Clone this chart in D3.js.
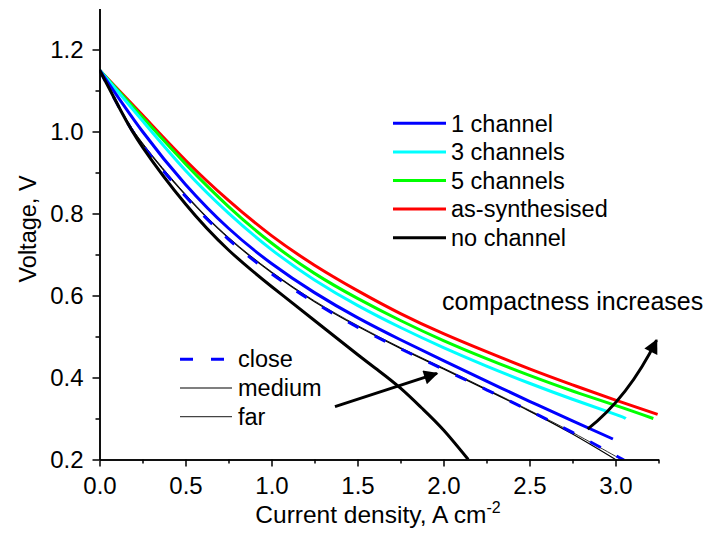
<!DOCTYPE html>
<html>
<head>
<meta charset="utf-8">
<script src="https://cdn.jsdelivr.net/npm/d3@7/dist/d3.min.js"></script>
<style>
  html, body { margin: 0; padding: 0; background: #fff; }
  svg { display: block; font-family: "Liberation Sans", Arial, sans-serif; }
</style>
</head>
<body>
<svg id="chart" width="710" height="533"></svg>
<script>
// Polarisation curves: current density (A cm^-2) vs cell voltage (V)
const xTicks = [0.0, 0.5, 1.0, 1.5, 2.0, 2.5, 3.0];
const xMinorTicks = [0.25, 0.75, 1.25, 1.75, 2.25, 2.75, 3.25];
const yTicks = [0.2, 0.4, 0.6, 0.8, 1.0, 1.2];
const yMinorTicks = [0.3, 0.5, 0.7, 0.9, 1.1];

const currentAsSynth = [0, 0.25, 0.5, 0.75, 1.0, 1.25, 1.5, 1.75, 2.0, 2.25, 2.5, 2.75, 3.0, 3.245];
const voltageAsSynth = [1.15, 1.040, 0.930, 0.832, 0.746, 0.674, 0.612, 0.556, 0.507, 0.463, 0.421, 0.382, 0.345, 0.310];

const current5ch = [0, 0.25, 0.5, 0.75, 1.0, 1.25, 1.5, 1.75, 2.0, 2.25, 2.5, 2.75, 3.0, 3.22];
const voltage5ch = [1.15, 1.035, 0.921, 0.817, 0.728, 0.654, 0.593, 0.539, 0.490, 0.446, 0.405, 0.367, 0.332, 0.300];

const current3ch = [0, 0.25, 0.5, 0.75, 1.0, 1.25, 1.5, 1.75, 2.0, 2.25, 2.5, 2.75, 3.0, 3.06];
const voltage3ch = [1.15, 1.026, 0.905, 0.801, 0.712, 0.638, 0.576, 0.522, 0.473, 0.428, 0.386, 0.347, 0.310, 0.300];

const current1ch = [0, 0.25, 0.5, 0.75, 1.0, 1.25, 1.5, 1.75, 2.0, 2.25, 2.5, 2.75, 2.985];
const voltage1ch = [1.15, 1.000, 0.871, 0.764, 0.678, 0.607, 0.546, 0.492, 0.441, 0.391, 0.342, 0.294, 0.250];

const currentNoCh = [0, 0.125, 0.25, 0.5, 0.75, 1.0, 1.25, 1.5, 1.625, 1.75, 1.875, 2.0, 2.144];
const voltageNoCh = [1.15, 1.050, 0.962, 0.823, 0.711, 0.622, 0.539, 0.456, 0.416, 0.374, 0.325, 0.272, 0.200];

const currentMedium = [0, 0.125, 0.25, 0.5, 0.75, 1.0, 1.25, 1.5, 1.75, 2.0, 2.25, 2.5, 2.75, 3.0];
const voltageMedium = [1.15, 1.052, 0.970, 0.845, 0.740, 0.656, 0.585, 0.525, 0.471, 0.421, 0.370, 0.318, 0.262, 0.200];

const currentFar = [0, 0.125, 0.25, 0.5, 0.75, 1.0, 1.25, 1.5, 1.75, 2.0, 2.25, 2.5, 2.75, 3.0, 3.04];
const voltageFar = [1.15, 1.053, 0.972, 0.847, 0.742, 0.658, 0.587, 0.527, 0.473, 0.423, 0.372, 0.320, 0.266, 0.208, 0.198];

const currentClose = [0, 0.125, 0.25, 0.5, 0.75, 1.0, 1.25, 1.5, 1.75, 2.0, 2.25, 2.5, 2.75, 3.0, 3.06];
const voltageClose = [1.15, 1.050, 0.967, 0.842, 0.737, 0.653, 0.583, 0.523, 0.470, 0.420, 0.370, 0.319, 0.266, 0.210, 0.196];

const legendLabels = ["1 channel", "3 channels", "5 channels", "as-synthesised", "no channel"];
const legendColors = ["#0000ff", "#00ffff", "#00ff00", "#ff0000", "#000000"];
const spacingLabels = ["close", "medium", "far"];

// annotation arrows, in data units
const arrowStraight = [[1.369, 0.329], [1.962, 0.410]];
const arrowCurved = [[2.838, 0.274], [3.075, 0.352], [3.239, 0.491]];
const annotationText = "compactness increases";

const svg = d3.select("#chart");
const x = d3.scaleLinear().domain([0, 3.25]).range([99.5, 658.5]);
const y = d3.scaleLinear().domain([0.2, 1.3]).range([459.5, 8.5]);

svg.append("defs").append("clipPath").attr("id", "plot")
  .append("rect")
  .attr("x", x(0)).attr("y", y(1.3))
  .attr("width", x(3.25) - x(0)).attr("height", y(0.2) - y(1.3));

svg.select("defs").append("marker")
  .attr("id", "head").attr("viewBox", "0 0 10 10")
  .attr("refX", 9).attr("refY", 5)
  .attr("markerWidth", 6.5).attr("markerHeight", 4.8)
  .attr("markerUnits", "strokeWidth")
  .attr("orient", "auto")
  .append("path").attr("d", "M0,0 L10,5 L0,10 Z").attr("fill", "#000");

const zip = (a, b) => a.map((v, i) => [v, b[i]]);
const line = d3.line().x(d => x(d[0])).y(d => y(d[1])).curve(d3.curveNatural);

const curves = [
  { xs: currentAsSynth, ys: voltageAsSynth, color: "#ff0000", w: 3 },
  { xs: current5ch, ys: voltage5ch, color: "#00ff00", w: 3 },
  { xs: current3ch, ys: voltage3ch, color: "#00ffff", w: 3 },
  { xs: current1ch, ys: voltage1ch, color: "#0000ff", w: 3 },
  { xs: currentFar, ys: voltageFar, color: "#333333", w: 1 },
  { xs: currentMedium, ys: voltageMedium, color: "#000000", w: 1.2 },
  { xs: currentClose, ys: voltageClose, color: "#0000ff", w: 3, dash: "12,18" },
  { xs: currentNoCh, ys: voltageNoCh, color: "#000000", w: 3 }
];

const g = svg.append("g").attr("clip-path", "url(#plot)");
g.selectAll("path.curve").data(curves).enter().append("path")
  .attr("class", "curve")
  .attr("d", c => line(zip(c.xs, c.ys)))
  .attr("fill", "none")
  .attr("stroke", c => c.color)
  .attr("stroke-width", c => c.w)
  .attr("stroke-dasharray", c => c.dash || null)
  .attr("stroke-linejoin", "round");

// axes
svg.append("g").attr("transform", `translate(0,${y(0.2)})`)
  .call(d3.axisBottom(x).tickValues(xTicks).tickFormat(d3.format(".1f"))
    .tickSize(7).tickSizeOuter(0).tickPadding(10));
svg.append("g").attr("transform", `translate(0,${y(0.2)})`)
  .call(d3.axisBottom(x).tickValues(xMinorTicks).tickFormat("").tickSize(4).tickSizeOuter(0));

svg.append("g").attr("transform", `translate(${x(0)},0)`)
  .call(d3.axisLeft(y).tickValues(yTicks).tickFormat(d3.format(".1f"))
    .tickSize(7).tickSizeOuter(0).tickPadding(9));
svg.append("g").attr("transform", `translate(${x(0)},0)`)
  .call(d3.axisLeft(y).tickValues(yMinorTicks).tickFormat("").tickSize(4).tickSizeOuter(0));

svg.selectAll(".domain").attr("stroke", "#000").attr("stroke-width", 1.5);
svg.selectAll(".tick line").attr("stroke", "#000").attr("stroke-width", 1.5);
svg.selectAll(".tick text").attr("font-size", 24).attr("fill", "#000")
  .attr("font-family", "'Liberation Sans', Arial, sans-serif");

// axis titles
const xTitle = svg.append("text")
  .attr("x", 378).attr("y", 523)
  .attr("text-anchor", "middle").attr("font-size", 24.5).attr("fill", "#000");
xTitle.append("tspan").text("Current density, A cm");
xTitle.append("tspan").attr("dy", -10).attr("font-size", 16).text("-2");

svg.append("text")
  .attr("transform", "translate(36,229) rotate(-90)")
  .attr("text-anchor", "middle").attr("font-size", 23.5).attr("fill", "#000")
  .text("Voltage, V");

// sample legend
const leg = svg.append("g");
legendLabels.forEach((lab, i) => {
  const ly = 123.3 + i * 28.6;
  leg.append("line").attr("x1", 393).attr("x2", 446).attr("y1", ly).attr("y2", ly)
    .attr("stroke", legendColors[i]).attr("stroke-width", 3);
  leg.append("text").attr("x", 451).attr("y", ly + 8.3)
    .attr("font-size", 23.5).attr("fill", "#000").text(lab);
});

// channel spacing legend
const spacingStyle = [
  { color: "#0000ff", w: 3, dash: "13,18" },
  { color: "#000000", w: 1.2 },
  { color: "#444444", w: 1.2 }
];
spacingLabels.forEach((lab, i) => {
  const ly = 359.3 + i * 28.7;
  leg.append("line").attr("x1", 180).attr("x2", 232).attr("y1", ly).attr("y2", ly)
    .attr("stroke", spacingStyle[i].color).attr("stroke-width", spacingStyle[i].w)
    .attr("stroke-dasharray", spacingStyle[i].dash || null);
  leg.append("text").attr("x", 238).attr("y", ly + 8)
    .attr("font-size", 23.5).attr("fill", "#000").text(lab);
});

// annotations
svg.append("path")
  .attr("d", d3.line().x(d => x(d[0])).y(d => y(d[1]))(arrowStraight))
  .attr("stroke", "#000").attr("stroke-width", 3).attr("fill", "none")
  .attr("marker-end", "url(#head)");

const [c0, c1, c2] = arrowCurved;
svg.append("path")
  .attr("d", `M${x(c0[0])},${y(c0[1])} Q${x(c1[0])},${y(c1[1])} ${x(c2[0])},${y(c2[1])}`)
  .attr("stroke", "#000").attr("stroke-width", 3).attr("fill", "none")
  .attr("marker-end", "url(#head)");

svg.append("text").attr("x", 442).attr("y", 310)
  .attr("font-size", 25).attr("fill", "#000").text(annotationText);
</script>
</body>
</html>
